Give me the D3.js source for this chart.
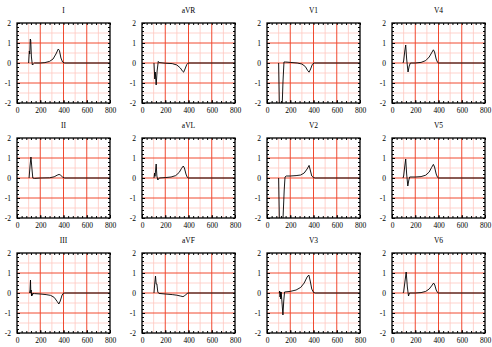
<!DOCTYPE html>
<html><head><meta charset="utf-8">
<script src="https://cdn.jsdelivr.net/npm/d3@7"></script>
<style>body{margin:0;background:#fff}svg{display:block}</style>
</head><body>
<svg id="c" width="492" height="347"></svg>
<script>
// Lead names in grid order (row-major)
const leads = ["I","aVR","V1","V4","II","aVL","V2","V5","III","aVF","V3","V6"];
const xTicks = [0,200,400,600,800];
const yTicks = [-2,-1,0,1,2];
const xMinorGrid = [100,300,500,700];
const yMinorGrid = [-1.5,-0.5,0.5,1.5];

// Waveforms: [time ms, mV]
const leadI   = [[100,0],[106,0.6],[110,0.45],[114,1.2],[118,1.15],[124,0.3],[132,-0.1],[140,-0.05],[150,0],[200,0],[240,0.02],[280,0.08],[310,0.2],[335,0.45],[355,0.7],[365,0.62],[378,0.25],[392,0.05],[410,0],[800,0]];
const leadAVR = [[103,0],[110,-0.8],[114,-0.45],[122,-1.1],[130,-0.4],[140,0.08],[148,0.02],[200,-0.01],[260,-0.03],[300,-0.1],[330,-0.25],[350,-0.42],[358,-0.46],[370,-0.3],[385,-0.08],[398,0],[800,0]];
const leadV1  = [[100,0],[108,-2.6],[118,-3.2],[128,-2.6],[137,-1.0],[146,0.05],[160,0.05],[200,0.03],[260,0],[300,-0.05],[330,-0.18],[350,-0.38],[362,-0.46],[375,-0.3],[390,-0.07],[406,0],[800,0]];
const leadV4  = [[95,0],[100,0.1],[110,0.6],[118,0.9],[126,0.2],[138,-0.45],[148,-0.15],[158,0],[200,0],[250,0.03],[290,0.12],[320,0.3],[340,0.5],[356,0.66],[366,0.55],[380,0.2],[392,0.03],[400,0],[800,0]];
const leadII  = [[104,0],[112,0.6],[120,1.05],[128,0.5],[136,0],[150,-0.02],[200,0],[280,0.01],[320,0.06],[345,0.14],[362,0.18],[375,0.14],[392,0.05],[410,0],[800,0]];
const leadAVL = [[103,0],[108,0.25],[112,0.08],[118,0.45],[122,0.7],[128,0.1],[136,-0.1],[148,0],[200,0.02],[250,0.05],[290,0.12],[320,0.28],[340,0.48],[355,0.6],[365,0.5],[378,0.2],[390,0.03],[398,0],[800,0]];
const leadV2  = [[100,0],[108,-2.6],[120,-3.2],[135,-2.4],[148,-0.6],[155,0.05],[165,0.1],[200,0.1],[250,0.12],[290,0.15],[320,0.25],[345,0.45],[362,0.63],[372,0.4],[385,0.1],[400,0.02],[414,0],[800,0]];
const leadV5  = [[95,0],[100,0.1],[110,0.6],[118,0.95],[126,0.2],[136,-0.4],[145,-0.1],[152,0.05],[200,0.05],[250,0.07],[290,0.14],[320,0.3],[340,0.52],[356,0.68],[366,0.55],[380,0.2],[392,0.03],[400,0],[800,0]];
const leadIII = [[108,0],[112,0.15],[116,0.65],[119,0.0],[122,0.15],[125,-0.15],[128,0.0],[132,-0.12],[138,-0.02],[150,-0.03],[200,-0.05],[250,-0.08],[290,-0.12],[320,-0.22],[345,-0.42],[360,-0.55],[372,-0.4],[388,-0.1],[400,-0.01],[412,0],[800,0]];
const leadAVF = [[103,0],[110,0.5],[116,0.85],[122,0.45],[128,0.45],[136,0.05],[145,-0.02],[200,-0.05],[260,-0.08],[300,-0.11],[330,-0.15],[352,-0.18],[365,-0.15],[380,-0.06],[395,0],[800,0]];
const leadV3  = [[105,0],[109,0.1],[112,-0.2],[115,0.05],[118,-0.3],[122,0.05],[128,-0.4],[137,-1.1],[144,-0.4],[151,0.05],[200,0.08],[250,0.15],[290,0.28],[320,0.5],[345,0.8],[360,0.9],[372,0.6],[385,0.2],[400,0.03],[414,0],[800,0]];
const leadV6  = [[95,0],[100,0.05],[112,0.6],[122,1.05],[132,0.3],[142,-0.15],[150,0],[200,0],[250,0.02],[290,0.08],[320,0.2],[340,0.35],[358,0.5],[368,0.4],[380,0.15],[392,0.02],[400,0],[800,0]];
const series = [leadI,leadAVR,leadV1,leadV4,leadII,leadAVL,leadV2,leadV5,leadIII,leadAVF,leadV3,leadV6];

const svg = d3.select("#c");
const W = 93, H = 80;
const font = "'Liberation Serif','Times New Roman',serif";

leads.forEach((name, i) => {
  const col = i % 4, row = Math.floor(i / 4);
  const x0 = 17 + col * 125, y0 = 23 + row * 115;
  const g = svg.append("g").attr("transform", `translate(${x0},${y0})`);
  const x = d3.scaleLinear().domain([0,800]).range([0,W]);
  const y = d3.scaleLinear().domain([-2,2]).range([H,0]);

  const clipId = "clip" + i;
  g.append("clipPath").attr("id", clipId).append("rect").attr("width", W).attr("height", H);

  // minor grid
  g.selectAll(".mxg").data(xMinorGrid).join("line")
    .attr("x1", d => x(d)).attr("x2", d => x(d)).attr("y1", 0).attr("y2", H)
    .attr("stroke", "#ffc8c0").attr("stroke-width", 0.8);
  g.selectAll(".myg").data(yMinorGrid).join("line")
    .attr("y1", d => y(d)).attr("y2", d => y(d)).attr("x1", 0).attr("x2", W)
    .attr("stroke", "#ffc8c0").attr("stroke-width", 0.8);
  // major grid
  g.selectAll(".Mxg").data(xTicks.slice(1,-1)).join("line")
    .attr("x1", d => x(d)).attr("x2", d => x(d)).attr("y1", 0).attr("y2", H)
    .attr("stroke", "#f04a30").attr("stroke-width", 1);
  g.selectAll(".Myg").data(yTicks.slice(1,-1)).join("line")
    .attr("y1", d => y(d)).attr("y2", d => y(d)).attr("x1", 0).attr("x2", W)
    .attr("stroke", "#f04a30").attr("stroke-width", 1);

  // axes with inward ticks
  const minorX = d3.range(0, 801, 40), minorY = d3.range(-2, 2.001, 0.2);
  const addAxis = (axis, tr) => {
    const a = g.append("g").attr("transform", tr).call(axis);
    a.select(".domain").remove();
    a.selectAll("line").attr("stroke", "#000");
    a.selectAll("text").attr("font-family", font).attr("font-size", 7.5).attr("fill", "#000");
    return a;
  };
  addAxis(d3.axisBottom(x).tickValues(minorX).tickSize(-2).tickFormat(""), `translate(0,${H})`);
  addAxis(d3.axisTop(x).tickValues(minorX).tickSize(-2).tickFormat(""), `translate(0,0)`);
  addAxis(d3.axisLeft(y).tickValues(minorY).tickSize(-2).tickFormat(""), `translate(0,0)`);
  addAxis(d3.axisRight(y).tickValues(minorY).tickSize(-2).tickFormat(""), `translate(${W},0)`);
  const bx = addAxis(d3.axisBottom(x).tickValues(xTicks).tickSize(-3).tickPadding(5).tickFormat(d3.format("d")), `translate(0,${H})`);
  const ly = addAxis(d3.axisLeft(y).tickValues(yTicks).tickSize(-3).tickPadding(6).tickFormat(d3.format("d")), `translate(0,0)`);
  ly.selectAll("text").text(d => d < 0 ? "-" + Math.abs(d) : d);

  // trace
  const line = d3.line().x(d => x(d[0])).y(d => y(d[1]));
  g.append("path").datum(series[i]).attr("d", line)
    .attr("clip-path", `url(#${clipId})`)
    .attr("fill", "none").attr("stroke", "#000").attr("stroke-width", 0.9).attr("stroke-linejoin", "round");

  // frame
  g.append("rect").attr("width", W).attr("height", H).attr("fill", "none")
    .attr("stroke", "#000").attr("stroke-width", 1.3);

  // title
  g.append("text").attr("x", W/2).attr("y", -10).attr("text-anchor", "middle")
    .attr("font-family", font).attr("font-size", 7.5).text(name);
});
</script>
</body></html>
